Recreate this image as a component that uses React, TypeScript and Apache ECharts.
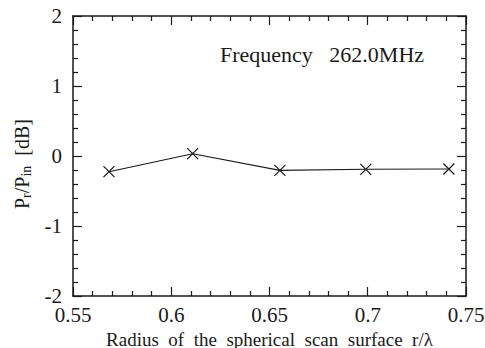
import React, { useEffect, useRef } from "react";
import * as echarts from "echarts";

const radius = [0.5683, 0.6109, 0.6553, 0.699, 0.7413];
const ratioDb = [-0.224, 0.033, -0.205, -0.19, -0.186];
const xTicks = { min: 0.55, max: 0.75, interval: 0.05 };
const yTicks = { min: -2, max: 2, interval: 1 };
const annotation = "Frequency   262.0MHz";
const xTitle = "Radius  of  the  spherical  scan  surface  r/\u03bb";

const FONT = "Liberation Serif";
const INK = "#1a1a1a";

export default function App() {
  const ref = useRef<HTMLDivElement>(null);
  useEffect(() => {
    document.body.style.margin = "0";
    const chart = echarts.init(ref.current!, undefined, { renderer: "svg" });
    const axisCommon = {
      axisLine: { show: true, onZero: false, lineStyle: { color: INK, width: 1.5 } },
      axisTick: { show: true, inside: true, length: 9, lineStyle: { color: INK, width: 1.2 } },
      minorTick: { show: true, splitNumber: 5, length: 5, lineStyle: { color: INK, width: 1.2 } },
      splitLine: { show: false },
      minorSplitLine: { show: false },
    };
    chart.setOption({
      animation: false,
      backgroundColor: "#ffffff",
      textStyle: { fontFamily: FONT },
      grid: {
        left: 73,
        right: 19,
        top: 16,
        bottom: 52,
        containLabel: false,
        outerBoundsMode: "none",
      },
      xAxis: [
        {
          type: "value",
          position: "bottom",
          ...xTicks,
          ...axisCommon,
          axisLabel: {
            margin: 8,
            color: INK,
            fontFamily: FONT,
            fontSize: 21,
            lineHeight: 21,
            formatter: (v: number) => String(+v.toFixed(2)),
          },
          name: xTitle,
          nameLocation: "middle",
          nameGap: 27,
          nameTextStyle: { fontFamily: FONT, fontSize: 19, lineHeight: 19, color: INK },
        },
        {
          type: "value",
          position: "top",
          ...xTicks,
          ...axisCommon,
          axisLabel: { show: false },
        },
      ],
      yAxis: [
        {
          type: "value",
          position: "left",
          ...yTicks,
          ...axisCommon,
          axisLabel: {
            margin: 11,
            color: INK,
            fontFamily: FONT,
            fontSize: 21,
          },
          name: "{a|P}{s|r}{a|/P}{s|in}{a|  [dB]}",
          nameLocation: "middle",
          nameGap: 39,
          nameTextStyle: {
            color: INK,
            fontFamily: FONT,
            padding: [0, 16, 0, 0],
            rich: {
              a: { fontFamily: FONT, fontSize: 20, lineHeight: 24, color: INK },
              s: { fontFamily: FONT, fontSize: 14, lineHeight: 14, verticalAlign: "bottom", color: INK },
            },
          },
        },
        {
          type: "value",
          position: "right",
          ...yTicks,
          ...axisCommon,
          axisLabel: { show: false },
        },
      ],
      graphic: [
        {
          type: "text",
          x: 220,
          y: 54,
          style: {
            text: annotation,
            fontFamily: FONT,
            fontSize: 22,
            fill: INK,
            verticalAlign: "middle",
          },
        },
      ],
      series: [
        {
          type: "line",
          xAxisIndex: 0,
          yAxisIndex: 0,
          data: radius.map((r, i) => [r, ratioDb[i]]),
          symbol: "path://M0,0L10,10M10,0L0,10",
          symbolSize: 11,
          lineStyle: { color: INK, width: 1.1 },
          itemStyle: { color: "rgba(0,0,0,0)", borderColor: INK, borderWidth: 1.2 },
        },
      ],
    });
    return () => chart.dispose();
  }, []);
  return <div ref={ref} style={{ width: 485, height: 348 }} />;
}
